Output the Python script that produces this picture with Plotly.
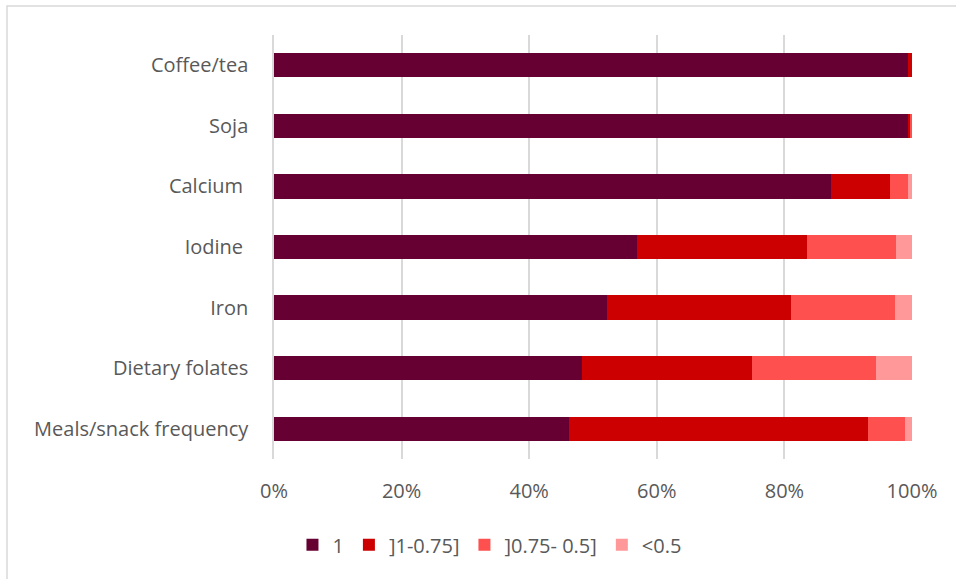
import plotly.graph_objects as go

categories = ["Coffee/tea", "Soja", "Calcium\u00a0", "Iodine\u00a0", "Iron", "Dietary folates", "Meals/snack frequency"]
series_names = ["1", "]1-0.75]", "]0.75- 0.5]", "<0.5"]
s1 = [99.4, 99.3, 87.3, 56.9, 52.2, 48.3, 46.3]
s2 = [0.6, 0.4, 9.3, 26.7, 28.8, 26.6, 46.8]
s3 = [0.0, 0.3, 2.8, 13.9, 16.3, 19.5, 5.8]
s4 = [0.0, 0.0, 0.6, 2.5, 2.7, 5.6, 1.1]
colors = ["#660033", "#CC0000", "#FF5050", "#FF9999"]

fig = go.Figure()
for name, vals, col in zip(series_names, [s1, s2, s3, s4], colors):
    fig.add_trace(go.Bar(
        y=categories, x=vals, name=name, orientation="h",
        marker=dict(color=col, line=dict(width=0)),
    ))

font_family = "'Open Sans', sans-serif"
fig.update_layout(
    barmode="stack",
    bargap=0.6,
    width=956, height=579,
    margin=dict(l=274, r=44, t=35, b=120),
    paper_bgcolor="white", plot_bgcolor="white",
    font=dict(family=font_family, size=20, color="#595959"),
    xaxis=dict(range=[0, 100], tickvals=[0, 20, 40, 60, 80, 100],
               ticktext=["0%", "20%", "40%", "60%", "80%", "100%"],
               showgrid=True, gridcolor="#D9D9D9", gridwidth=1.5,
               zeroline=False, showline=False, ticks="", fixedrange=True,
               ticklabelstandoff=18),
    yaxis=dict(autorange="reversed", showgrid=False, showline=True,
               linecolor="#D9D9D9", linewidth=1.5, ticks="",
               ticklabelstandoff=20, fixedrange=True),
    legend=dict(orientation="h", xref="container", yref="container",
                x=0.512, xanchor="center", y=0.059, yanchor="middle",
                font=dict(size=20, color="#595959"), traceorder="normal",
                itemwidth=30),
    showlegend=True,
    shapes=[dict(type="rect", xref="paper", yref="paper",
                 x0=-0.4185, x1=1.08, y0=-0.3, y1=1.0684,
                 line=dict(color="#D9D9D9", width=1.5), fillcolor="rgba(0,0,0,0)",
                 layer="below")],
)

fig.write_html("out.html", config={"displayModeBar": False},
               post_script="document.body.style.margin='0';")
